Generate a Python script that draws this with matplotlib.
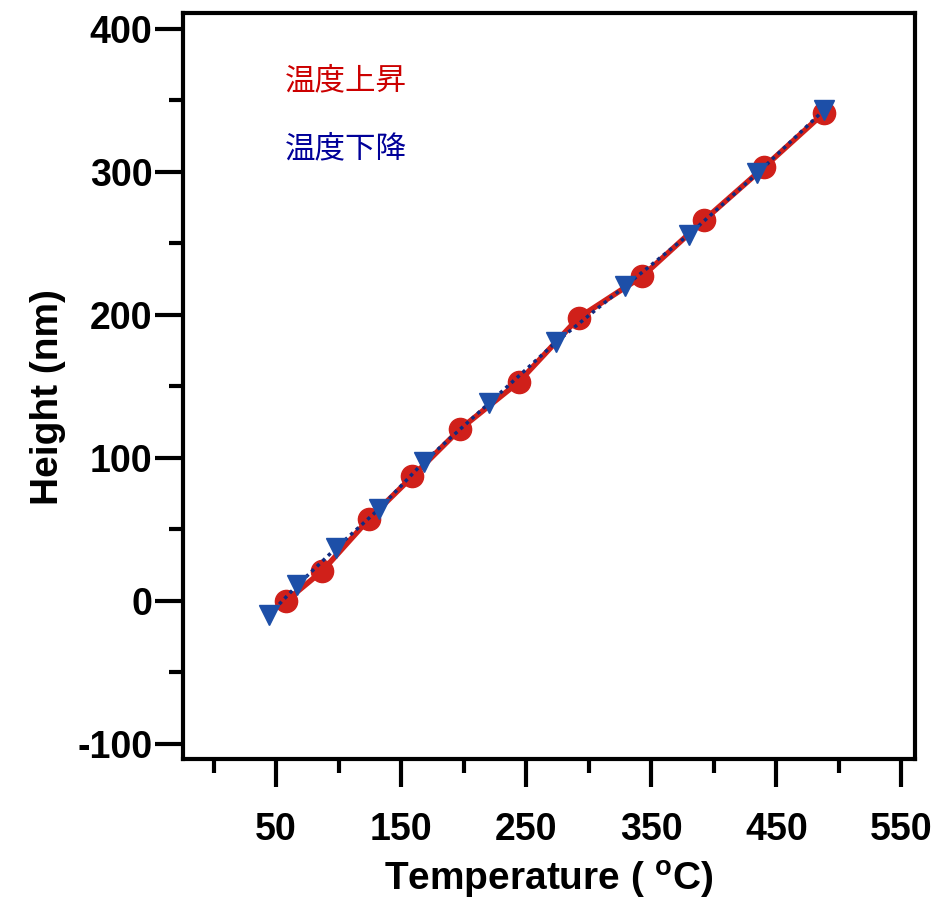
import matplotlib
matplotlib.use("Agg")
import matplotlib.pyplot as plt
from matplotlib.ticker import MultipleLocator, FixedLocator

# data
temp_up = [58, 87, 124, 159, 197, 244, 292, 343, 392, 440, 488]
height_up = [0, 21, 57, 87, 120, 153, 198, 227, 266, 303, 341]

temp_down = [44, 67, 98, 132, 168, 220, 274, 329, 380, 435, 488]
height_down = [-10, 11, 37, 64, 97, 138, 181, 220, 256, 299, 343]

label_up = "温度上昇"
label_down = "温度下降"

x_ticks = [50, 150, 250, 350, 450, 550]
y_ticks = [-100, 0, 100, 200, 300, 400]

plt.rcParams['font.family'] = ['Liberation Sans', 'DejaVu Sans']
plt.rcParams['axes.unicode_minus'] = False
plt.rcParams['mathtext.fontset'] = 'custom'
plt.rcParams['mathtext.rm'] = 'Liberation Sans:bold'

fig = plt.figure(figsize=(9.36, 9.06), dpi=100)
ax = fig.add_axes([0.1955, 0.1623, 0.7821, 0.8234])

red = "#d0201a"

ax.plot(temp_up, height_up, color=red, lw=4, marker='o', ms=16,
        markerfacecolor=red, markeredgecolor=red, zorder=3)
ax.plot(temp_down, height_down, color="#102a80", lw=2.5, ls=(0, (1, 1.2)),
        marker='v', ms=15, markerfacecolor="#1d4fa8", markeredgecolor="#1d4fa8",
        zorder=4)

ax.set_xlim(-24.5, 561)
ax.set_ylim(-110.5, 411)

ax.xaxis.set_major_locator(FixedLocator(x_ticks))
ax.xaxis.set_minor_locator(FixedLocator([0, 100, 200, 300, 400, 500]))
ax.yaxis.set_major_locator(FixedLocator(y_ticks))
ax.yaxis.set_minor_locator(MultipleLocator(50))

for s in ax.spines.values():
    s.set_linewidth(3)

ax.tick_params(axis='both', which='major', direction='out', length=20,
               width=3, labelsize=27)
ax.tick_params(axis='both', which='minor', direction='out', length=10, width=3)
ax.tick_params(axis='x', which='major', pad=18)
ax.tick_params(axis='y', which='major', pad=2)
for lab in ax.get_xticklabels() + ax.get_yticklabels():
    lab.set_fontweight('bold')

ax.set_xlabel("Temperature ( $^{\\mathrm{o}}$C)", fontsize=28, fontweight='bold',
              labelpad=8)
ax.set_ylabel("Height (nm)", fontsize=28, fontweight='bold', labelpad=8)
ax.yaxis.label.set_y(0.485)

cjk = ['Noto Sans CJK JP', 'DejaVu Sans']
ax.text(0.139, 0.909, label_up, transform=ax.transAxes, color="#cc0000",
        fontsize=22, family=cjk, va='center', ha='left')
ax.text(0.139, 0.818, label_down, transform=ax.transAxes, color="#000099",
        fontsize=22, family=cjk, va='center', ha='left')

fig.savefig("out.png", dpi=100)
